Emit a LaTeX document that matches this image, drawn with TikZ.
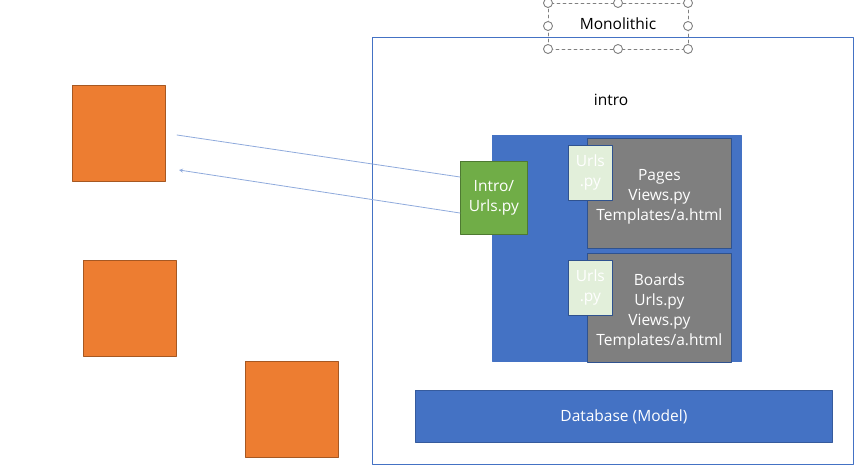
\documentclass[tikz,border=0pt]{standalone}
\usepackage{fontspec}
\setmainfont{Open Sans}
\usetikzlibrary{positioning}
\definecolor{ppblue}{HTML}{4472C4}
\definecolor{ppedge}{HTML}{2F528F}
\definecolor{pporange}{HTML}{ED7D31}
\definecolor{ppgreen}{HTML}{70AD47}
\definecolor{ppgray}{HTML}{7F7F7F}
\definecolor{pplight}{HTML}{E2EFDA}
\definecolor{ppline}{HTML}{8FAADC}
\tikzset{
  sheet/.style={draw=ppedge, line width=0.8pt, inner sep=0pt, anchor=north west, align=center},
  appbox/.style={sheet, fill=ppgray, text=white},
  urlbox/.style={sheet, fill=pplight, text=white, minimum width=44, minimum height=55},
  client/.style={draw=pporange!70!black, line width=0.6pt, fill=pporange, inner sep=0pt, anchor=north west, minimum width=93, minimum height=96},
  handle/.style={circle, draw=gray, fill=white, line width=0.9pt, inner sep=0pt, minimum size=9},
}
\begin{document}
\begin{tikzpicture}[x=1pt, y=-1pt, font=\fontsize{15.5}{20}\selectfont, line join=round, line cap=round, >=stealth]
  \useasboundingbox (0,0) rectangle (864,473);
  % clients
  \node[client] (c1) at (72,85) {};
  \node[client] (c2) at (83,260) {};
  \node[client] (c3) at (245,361) {};
  % monolith frame
  \node[draw=ppblue, line width=0.8pt, inner sep=0pt, anchor=north west, minimum width=481, minimum height=427] (mono) at (372,37) {};
  \draw[gray, dashed, line width=0.6pt] (548,3) rectangle (688,49);
  \foreach \hx in {548,618,688}
    \foreach \hy in {3,49}
      \node[handle] at (\hx,\hy) {};
  \node[handle] at (548,26) {};
  \node[handle] at (688,26) {};
  \node (title) at (618,24) {Monolithic};
  \node (intro) at (611,100) {intro};
  % project
  \node[sheet, draw=ppblue, fill=ppblue, minimum width=249, minimum height=226] (proj) at (492,135) {};
  \node[appbox, minimum width=144, minimum height=110] (pages) at (587,138) {};
  \node[text=white, align=center] at ([yshift=-3]pages.center) {Pages\\Views.py\\Templates/a.html};
  \node[urlbox] (purls) at (568,145) {Urls\\.py};
  \node[appbox, minimum width=144, minimum height=109] (boards) at (587,253) {};
  \node[text=white, align=center] at ([yshift=-4]boards.center) {Boards\\Urls.py\\Views.py\\Templates/a.html};
  \node[urlbox] (burls) at (568,260) {Urls\\.py};
  \node[sheet, draw=ppgreen!70!black, fill=ppgreen, text=white, minimum width=67, minimum height=73] (iurls) at (460,161) {Intro/\\Urls.py};
  % database
  \node[sheet, draw=ppblue!80!black, fill=ppblue, text=white, minimum width=417, minimum height=52] (db) at (415,390) {Database (Model)};
  % requests
  \coordinate (req) at (177,135);
  \coordinate (resp) at (179,170);
  \draw[ppline, line width=0.8pt] (req) -- ([yshift=-16]iurls.north west);
  \draw[ppline, line width=0.8pt, ->] ([yshift=-52]iurls.north west) -- (resp);
\end{tikzpicture}
\end{document}
